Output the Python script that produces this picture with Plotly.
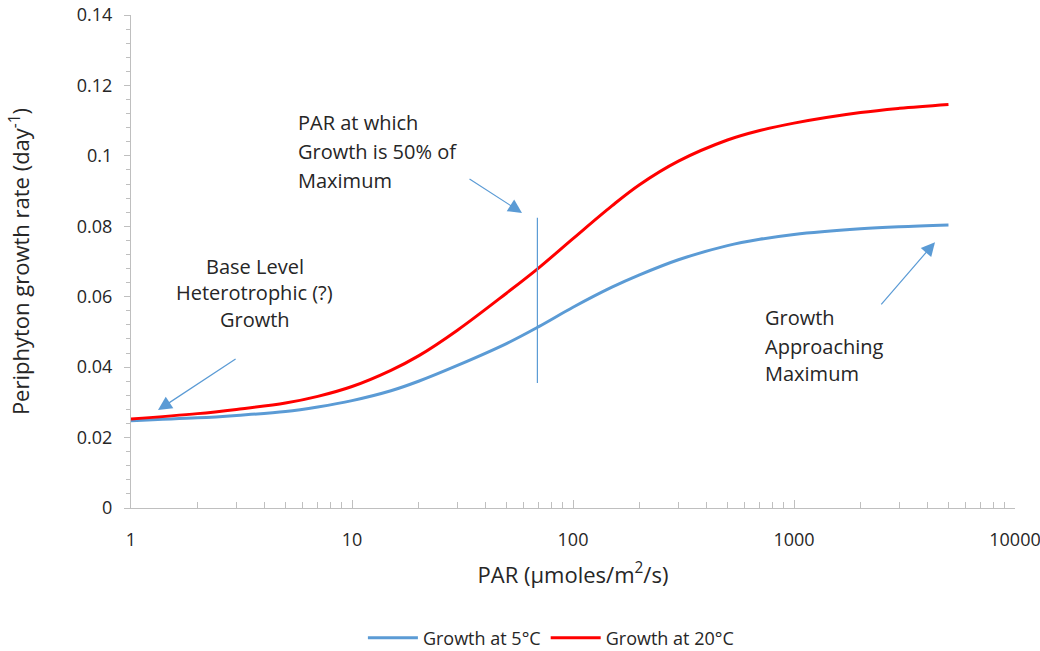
import numpy as np
import plotly.graph_objects as go

# Data
par = [1, 2, 3, 5, 7, 10, 15, 20, 30, 50, 70, 100, 150, 200, 300, 500, 700, 1000, 2000, 3000, 5000]
growth_20c = [0.0253, 0.0268, 0.0280, 0.0298, 0.0317, 0.0345, 0.0391, 0.0432, 0.0505, 0.0610, 0.0682,
              0.0765, 0.0858, 0.0918, 0.0985, 0.1045, 0.1072, 0.1093, 0.1123, 0.1135, 0.1146]
growth_5c = [0.0248, 0.0256, 0.0263, 0.0274, 0.0287, 0.0305, 0.0333, 0.0360, 0.0405, 0.0467, 0.0515,
             0.0570, 0.0627, 0.0662, 0.0705, 0.0745, 0.0763, 0.0777, 0.0793, 0.0799, 0.0804]
half_sat_par = 69
half_line_y = [0.0355, 0.0824]

x_tickvals = [1, 10, 100, 1000, 10000]
x_minor_tickvals = [m * 10 ** d for d in range(4) for m in range(2, 10)]
y_tickvals = [0, 0.02, 0.04, 0.06, 0.08, 0.10, 0.12, 0.14]
y_ticktext = ["0", "0.02", "0.04", "0.06", "0.08", "0.1", "0.12", "0.14"]

# annotation text lines
base_lines = ["Base Level", "Heterotrophic (?)", "Growth"]
half_lines = ["PAR at which", "Growth is 50% of", "Maximum"]
max_lines = ["Growth", "Approaching", "Maximum"]

BLUE = "#5b9bd5"
RED = "#ff0000"
TXT = "#262626"
AX = "#bfbfbf"
FONT = "Open Sans"

fig = go.Figure()
fig.add_trace(go.Scatter(x=par, y=growth_5c, mode="lines", name="Growth at 5°C",
                         line=dict(color=BLUE, width=3, shape="spline", smoothing=1.0)))
fig.add_trace(go.Scatter(x=par, y=growth_20c, mode="lines", name="Growth at 20°C",
                         line=dict(color=RED, width=3, shape="spline", smoothing=1.0)))
fig.add_trace(go.Scatter(x=[half_sat_par, half_sat_par], y=half_line_y, mode="lines",
                         line=dict(color=BLUE, width=1.2), showlegend=False, hoverinfo="skip"))


def lx(v):
    return float(np.log10(v))


annotations = []
tfont = dict(family=FONT, size=20, color=TXT)
# text blocks, one annotation per line (x given as log10 of PAR)
for txt, yy in zip(base_lines, [0.0687, 0.0611, 0.0534]):
    annotations.append(dict(x=0.561, y=yy, xref="x", yref="y", xanchor="center", yanchor="middle",
                            text=txt, showarrow=False, font=tfont))
for txt, yy in zip(half_lines, [0.1096, 0.1011, 0.0929]):
    annotations.append(dict(x=0.747, y=yy, xref="x", yref="y", xanchor="left", yanchor="middle",
                            text=txt, showarrow=False, font=tfont))
for txt, yy in zip(max_lines, [0.0540, 0.0460, 0.0381]):
    annotations.append(dict(x=2.860, y=yy, xref="x", yref="y", xanchor="left", yanchor="middle",
                            text=txt, showarrow=False, font=tfont))
# arrows: (head), (tail)
arrows = [((1.325, 0.0278), (3.02, 0.0426)),
          ((58.8, 0.0838), (33.5, 0.0937)),
          ((4345, 0.0755), (2449, 0.0574))]
for (hx, hy), (tx, ty) in arrows:
    annotations.append(dict(x=lx(hx), y=hy, ax=lx(tx), ay=ty, xref="x", yref="y", axref="x", ayref="y",
                            text="", showarrow=True, arrowhead=2, arrowsize=2.3, arrowwidth=1.2,
                            arrowcolor=BLUE, standoff=0))

fig.update_layout(
    width=1040, height=651,
    margin=dict(l=131, r=25, t=15, b=143),
    paper_bgcolor="white", plot_bgcolor="white",
    font=dict(family=FONT, size=16, color=TXT),
    annotations=annotations,
    showlegend=True,
    legend=dict(orientation="h", x=0.475, xanchor="center", xref="paper",
                yref="container", y=0.02, yanchor="middle",
                font=dict(family=FONT, size=18, color=TXT), itemwidth=50, tracegroupgap=0),
)
fig.update_xaxes(
    type="log", range=[0, 4], tickvals=x_tickvals, ticktext=[str(v) for v in x_tickvals],
    automargin=False, ticklabeloverflow="allow",
    showgrid=False, zeroline=False, showline=True, linecolor=AX, linewidth=1.3,
    ticks="inside", ticklen=8, tickcolor=AX, tickwidth=1,
    minor=dict(ticks="inside", ticklen=6, tickcolor=AX, tickvals=x_minor_tickvals, showgrid=False),
    tickfont=dict(family=FONT, size=18, color=TXT), ticklabelstandoff=15,
    title=dict(text="PAR (µmoles/m<sup>2</sup>/s)", font=dict(family=FONT, size=22, color=TXT), standoff=17),
)
fig.update_yaxes(
    range=[0, 0.14], tickvals=y_tickvals, ticktext=y_ticktext,
    automargin=False, ticklabeloverflow="allow",
    showgrid=False, zeroline=False, showline=True, linecolor=AX, linewidth=1.3,
    ticks="outside", ticklen=6, tickcolor=AX, tickwidth=1,
    minor=dict(ticks="outside", ticklen=4, tickcolor=AX, dtick=0.004, showgrid=False),
    tickfont=dict(family=FONT, size=18, color=TXT), ticklabelstandoff=8,
    title=dict(text="Periphyton growth rate (day<sup>-1</sup>)", font=dict(family=FONT, size=22, color=TXT), standoff=40),
)

fig.write_html("out.html", config={"displayModeBar": False},
               post_script="document.body.style.margin='0px';")
